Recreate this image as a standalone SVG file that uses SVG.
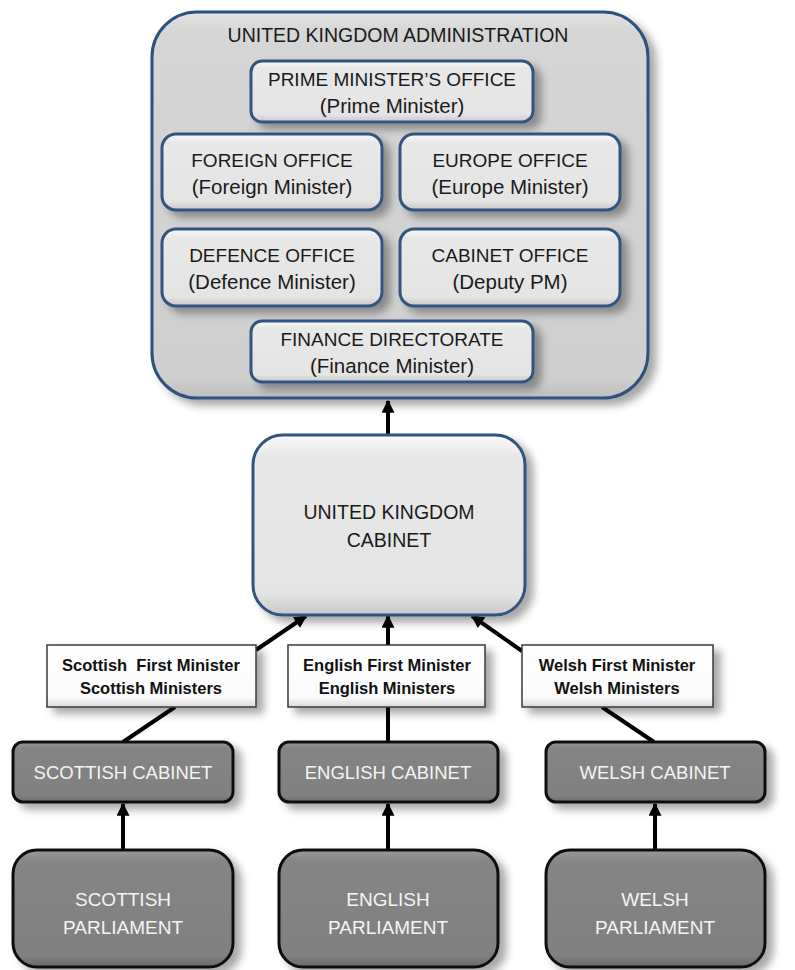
<svg xmlns="http://www.w3.org/2000/svg" width="795" height="970" viewBox="0 0 795 970">
  <defs>
    <style>
      text { font-family: "Liberation Sans", Arial, sans-serif; text-anchor: middle; }
      .dark-t { fill: #1a1a1a; font-size: 19px; }
      .sub-t { fill: #1a1a1a; font-size: 20.5px; }
      .light-t { fill: #f4f4f4; font-size: 18.5px; }
      .parl-t { fill: #f4f4f4; font-size: 19px; }
      .lbl-t { fill: #111; font-size: 16.5px; font-weight: bold; white-space: pre; }
      .admin { fill: url(#gAdmin); stroke: #2e5180; stroke-width: 3; filter: url(#shadow); }
      .office { fill: url(#gOffice); stroke: #30547f; stroke-width: 3; filter: url(#shadow); }
      .label { fill: url(#gLabel); stroke: #3a3a3a; stroke-width: 1.5; filter: url(#shadow); }
      .darkbox { fill: url(#gDark); stroke: #111; stroke-width: 3; filter: url(#shadow); }
      .conn { stroke: #000; stroke-width: 4; fill: none; }
      .conn-arrow { stroke: #000; stroke-width: 4; fill: none; marker-end: url(#arrow); }
    </style>
    <filter id="shadow" x="-20%" y="-20%" width="150%" height="150%">
      <feDropShadow dx="7" dy="6" stdDeviation="4.5" flood-color="#000" flood-opacity="0.35"/>
    </filter>
    <linearGradient id="gAdmin" x1="0" y1="0" x2="0" y2="1">
      <stop offset="0" stop-color="#e4e4e4"/>
      <stop offset="0.05" stop-color="#d6d6d6"/>
      <stop offset="0.95" stop-color="#cfcfcf"/>
      <stop offset="1" stop-color="#bdbdbd"/>
    </linearGradient>
    <linearGradient id="gOffice" x1="0" y1="0" x2="0" y2="1">
      <stop offset="0" stop-color="#fafafa"/>
      <stop offset="0.12" stop-color="#e8e8e8"/>
      <stop offset="0.88" stop-color="#e4e4e4"/>
      <stop offset="1" stop-color="#c8c8c8"/>
    </linearGradient>
    <linearGradient id="gLabel" x1="0" y1="0" x2="0" y2="1">
      <stop offset="0" stop-color="#ffffff"/>
      <stop offset="0.85" stop-color="#fbfbfb"/>
      <stop offset="1" stop-color="#d8d8d8"/>
    </linearGradient>
    <linearGradient id="gDark" x1="0" y1="0" x2="0" y2="1">
      <stop offset="0" stop-color="#9a9a9a"/>
      <stop offset="0.1" stop-color="#858585"/>
      <stop offset="0.9" stop-color="#808080"/>
      <stop offset="1" stop-color="#6a6a6a"/>
    </linearGradient>
    <marker id="arrow" viewBox="0 0 10 10" refX="9" refY="5" markerUnits="userSpaceOnUse" markerWidth="13" markerHeight="13" orient="auto">
      <path d="M0,0 L10,5 L0,10 Z" fill="#000"/>
    </marker>
  </defs>

  <!-- connectors -->
  <g id="connectors">
    <line class="conn-arrow" x1="388" y1="435" x2="388" y2="401"/>
    <line class="conn-arrow" x1="256" y1="650" x2="306" y2="616"/>
    <line class="conn-arrow" x1="388" y1="645" x2="388" y2="616"/>
    <line class="conn-arrow" x1="522" y1="651" x2="472" y2="616"/>
    <line class="conn" x1="175" y1="707" x2="123" y2="742"/>
    <line class="conn" x1="388" y1="707" x2="388" y2="742"/>
    <line class="conn" x1="602" y1="707" x2="654" y2="742"/>
    <line class="conn-arrow" x1="123" y1="850" x2="123" y2="804"/>
    <line class="conn-arrow" x1="388" y1="850" x2="388" y2="804"/>
    <line class="conn-arrow" x1="655" y1="850" x2="655" y2="804"/>
  </g>

  <!-- administration container and offices -->
  <g id="uk-administration">
    <rect class="admin" x="152" y="12" width="496" height="386" rx="45" ry="45"/>
    <text class="dark-t" x="398" y="42" style="font-size:19.5px">UNITED KINGDOM ADMINISTRATION</text>
  </g>
  <g id="pm-office">
    <rect class="office" x="251" y="61" width="282" height="61" rx="11"/>
    <text class="dark-t" x="392" y="86">PRIME MINISTER’S OFFICE</text>
    <text class="sub-t" x="392" y="113">(Prime Minister)</text>
  </g>
  <g id="foreign-office">
    <rect class="office" x="162" y="134" width="220" height="76" rx="14"/>
    <text class="dark-t" x="272" y="167">FOREIGN OFFICE</text>
    <text class="sub-t" x="272" y="194">(Foreign Minister)</text>
  </g>
  <g id="europe-office">
    <rect class="office" x="400" y="134" width="220" height="76" rx="14"/>
    <text class="dark-t" x="510" y="167">EUROPE OFFICE</text>
    <text class="sub-t" x="510" y="194">(Europe Minister)</text>
  </g>
  <g id="defence-office">
    <rect class="office" x="162" y="229" width="220" height="77" rx="14"/>
    <text class="dark-t" x="272" y="262">DEFENCE OFFICE</text>
    <text class="sub-t" x="272" y="289">(Defence Minister)</text>
  </g>
  <g id="cabinet-office">
    <rect class="office" x="400" y="229" width="220" height="77" rx="14"/>
    <text class="dark-t" x="510" y="262">CABINET OFFICE</text>
    <text class="sub-t" x="510" y="289">(Deputy PM)</text>
  </g>
  <g id="finance-directorate">
    <rect class="office" x="251" y="321" width="282" height="61" rx="11"/>
    <text class="dark-t" x="392" y="346">FINANCE DIRECTORATE</text>
    <text class="sub-t" x="392" y="373">(Finance Minister)</text>
  </g>

  <!-- UK cabinet -->
  <g id="uk-cabinet">
    <rect class="office" x="253" y="435" width="272" height="180" rx="30"/>
    <text class="dark-t" x="389" y="519" style="font-size:19.5px">UNITED KINGDOM</text>
    <text class="dark-t" x="389" y="547" style="font-size:19.5px">CABINET</text>
  </g>

  <!-- ministers labels -->
  <g id="scottish-ministers">
    <rect class="label" x="47" y="645" width="209" height="62"/>
    <text class="lbl-t" x="151" y="671">Scottish  First Minister</text>
    <text class="lbl-t" x="151" y="694">Scottish Ministers</text>
  </g>
  <g id="english-ministers">
    <rect class="label" x="288" y="645" width="197" height="62"/>
    <text class="lbl-t" x="387" y="671">English First Minister</text>
    <text class="lbl-t" x="387" y="694">English Ministers</text>
  </g>
  <g id="welsh-ministers">
    <rect class="label" x="522" y="645" width="191" height="62"/>
    <text class="lbl-t" x="617" y="671">Welsh First Minister</text>
    <text class="lbl-t" x="617" y="694">Welsh Ministers</text>
  </g>

  <!-- devolved cabinets -->
  <g id="scottish-cabinet">
    <rect class="darkbox" x="13" y="742" width="220" height="60" rx="10"/>
    <text class="light-t" x="123" y="779">SCOTTISH CABINET</text>
  </g>
  <g id="english-cabinet">
    <rect class="darkbox" x="279" y="742" width="219" height="60" rx="10"/>
    <text class="light-t" x="388" y="779">ENGLISH CABINET</text>
  </g>
  <g id="welsh-cabinet">
    <rect class="darkbox" x="546" y="742" width="219" height="60" rx="10"/>
    <text class="light-t" x="655" y="779">WELSH CABINET</text>
  </g>

  <!-- devolved parliaments -->
  <g id="scottish-parliament">
    <rect class="darkbox" x="13" y="850" width="220" height="117" rx="24"/>
    <text class="parl-t" x="123" y="906">SCOTTISH</text>
    <text class="parl-t" x="123" y="934">PARLIAMENT</text>
  </g>
  <g id="english-parliament">
    <rect class="darkbox" x="279" y="850" width="219" height="117" rx="24"/>
    <text class="parl-t" x="388" y="906">ENGLISH</text>
    <text class="parl-t" x="388" y="934">PARLIAMENT</text>
  </g>
  <g id="welsh-parliament">
    <rect class="darkbox" x="546" y="850" width="219" height="117" rx="24"/>
    <text class="parl-t" x="655" y="906">WELSH</text>
    <text class="parl-t" x="655" y="934">PARLIAMENT</text>
  </g>
</svg>
